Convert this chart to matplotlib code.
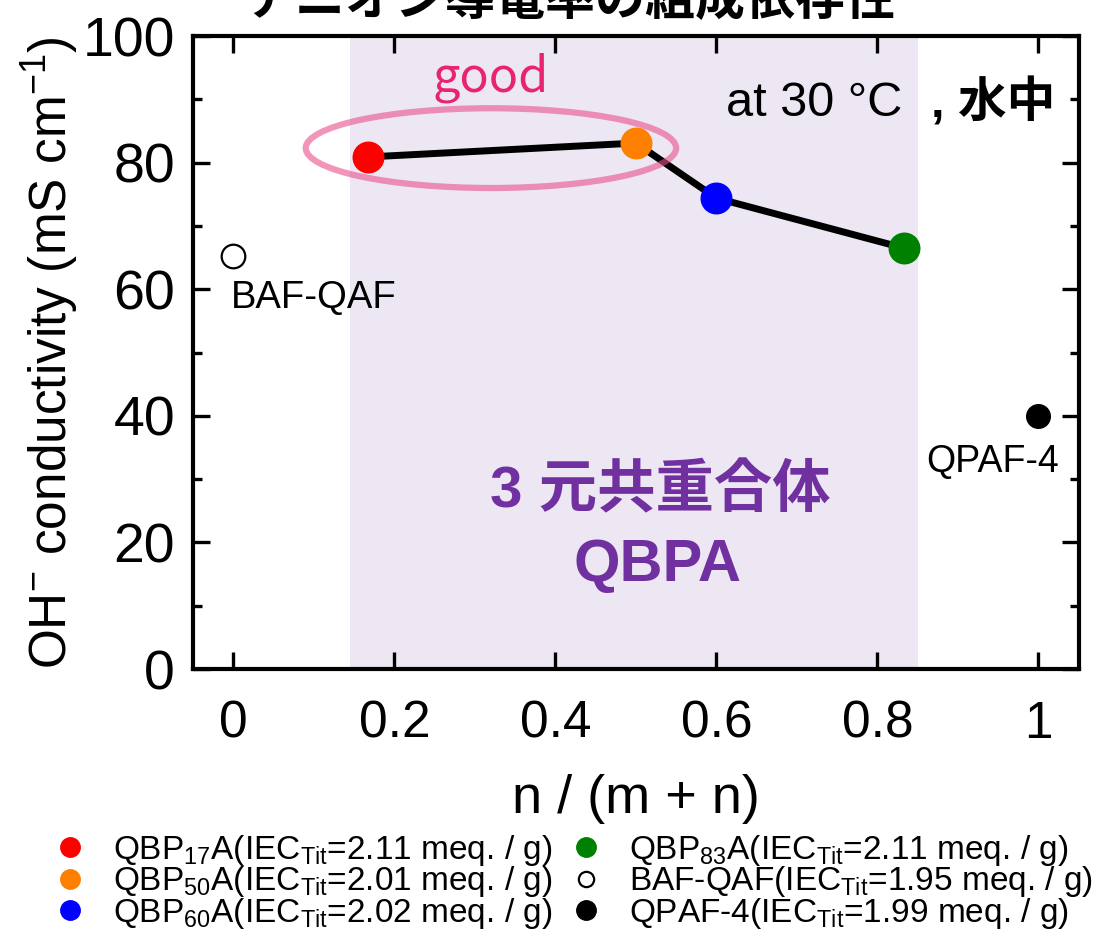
import matplotlib
matplotlib.use("Agg")
import matplotlib.pyplot as plt
from matplotlib.patches import Ellipse
from matplotlib.lines import Line2D

plt.rcParams['font.family'] = ['Liberation Sans', 'Noto Sans CJK JP']
plt.rcParams['mathtext.fontset'] = 'custom'
plt.rcParams['mathtext.rm'] = 'Liberation Sans'
plt.rcParams['mathtext.it'] = 'Liberation Sans:italic'
plt.rcParams['mathtext.bf'] = 'Liberation Sans:bold'
plt.rcParams['mathtext.default'] = 'rm'

# QBPA terpolymers: n / (m + n) and OH- conductivity at 30 C in water (mS/cm)
qbpa_names = ['QBP17A', 'QBP50A', 'QBP60A', 'QBP83A']
qbpa_n = [0.167, 0.50, 0.60, 0.833]
qbpa_sigma = [80.9, 83.1, 74.4, 66.5]
qbpa_colors = ['#FF0000', '#FF8000', '#0000FF', '#008000']

# reference membranes
baf_n, baf_sigma = 0.0, 65.2
qpaf_n, qpaf_sigma = 1.0, 40.0

legend_labels = [
    r'QBP$_{17}$A(IEC$_{\mathrm{Tit}}$=2.11 meq. / g)',
    r'QBP$_{50}$A(IEC$_{\mathrm{Tit}}$=2.01 meq. / g)',
    r'QBP$_{60}$A(IEC$_{\mathrm{Tit}}$=2.02 meq. / g)',
    r'QBP$_{83}$A(IEC$_{\mathrm{Tit}}$=2.11 meq. / g)',
    r'BAF-QAF(IEC$_{\mathrm{Tit}}$=1.95 meq. / g)',
    r'QPAF-4(IEC$_{\mathrm{Tit}}$=1.99 meq. / g)',
]

xticks = [0, 0.2, 0.4, 0.6, 0.8, 1.0]
xtick_labels = ['0', '0.2', '0.4', '0.6', '0.8', '1']
yticks = [0, 20, 40, 60, 80, 100]

fig = plt.figure(figsize=(11.03, 9.3), dpi=100)
ax = fig.add_axes([0.175, 0.2806, 0.803, 0.6806])

# terpolymer composition range
ax.axvspan(0.145, 0.85, color='#EDE7F3', lw=0, zorder=0)

ax.plot(qbpa_n, qbpa_sigma, color='black', lw=5, zorder=2)
for x, y, c in zip(qbpa_n, qbpa_sigma, qbpa_colors):
    ax.plot(x, y, 'o', color=c, mec=c, ms=22, zorder=3)
ax.plot(baf_n, baf_sigma, 'o', mfc='white', mec='black', mew=1.6, ms=17, zorder=3)
ax.plot(qpaf_n, qpaf_sigma, 'o', color='black', ms=17, zorder=3)

ax.add_patch(Ellipse((0.32, 82.3), 0.46, 12.6, fill=False,
                     edgecolor='#E8508A', alpha=0.6, lw=4.5, zorder=4))

ax.text(0.32, 93.4, 'good', color='#E8246E', fontsize=35, ha='center', va='center',
        family='Noto Sans CJK JP')
ax.text(0.612, 89.4, 'at 30 °C', fontsize=35, ha='left', va='center')
ax.text(0.866, 89.4, ', 水中', fontsize=35, fontweight='bold', ha='left', va='center',
        family=['Liberation Sans', 'Noto Sans CJK JP'])
ax.text(-0.003, 58.6, 'BAF-QAF', fontsize=27.5, ha='left', va='center')
ax.text(0.943, 32.7, 'QPAF-4', fontsize=27, ha='center', va='center')
ax.text(0.53, 28.0, '3 元共重合体', color='#7030A0', fontsize=42, fontweight='bold',
        ha='center', va='center')
ax.text(0.527, 16.4, 'QBPA', color='#7030A0', fontsize=43, fontweight='bold',
        ha='center', va='center')

ax.set_xlim(-0.05, 1.05)
ax.set_ylim(0, 100)
ax.set_xticks(xticks)
ax.set_xticklabels(xtick_labels)
ax.set_yticks(yticks)
ax.set_yticks(range(10, 100, 20), minor=True)
ax.tick_params(axis='both', which='both', direction='in', top=True, right=True, width=2.4)
ax.tick_params(axis='both', which='major', length=12)
ax.tick_params(axis='y', which='minor', length=6.5)
ax.tick_params(axis='x', which='major', labelsize=37, pad=22)
ax.tick_params(axis='y', which='major', labelsize=40, pad=13)
for s in ax.spines.values():
    s.set_linewidth(3)

ax.set_xlabel('n / (m + n)', fontsize=39, labelpad=18)
ax.set_ylabel(r'OH$^{-}$ conductivity (mS cm$^{-1}$)', fontsize=37, labelpad=1)

fig.text(0.517, 0.984, 'アニオン導電率の組成依存性', fontsize=36, fontweight='bold',
         ha='center', va='baseline', family=['Noto Sans CJK JP'])

handles = [Line2D([], [], ls='none', marker='o', color=c, mec=c, ms=14) for c in qbpa_colors]
handles.append(Line2D([], [], ls='none', marker='o', mfc='white', mec='black', mew=1.6, ms=11))
handles.append(Line2D([], [], ls='none', marker='o', color='black', ms=14))
fig.legend(handles, legend_labels, ncol=2, loc='upper left', bbox_to_anchor=(0.0485, 0.1045),
           frameon=False, fontsize=24, handlelength=1.0, handletextpad=0.8,
           columnspacing=0.5, labelspacing=-0.1, borderpad=0, borderaxespad=0)

fig.savefig('out.png', dpi=100)
